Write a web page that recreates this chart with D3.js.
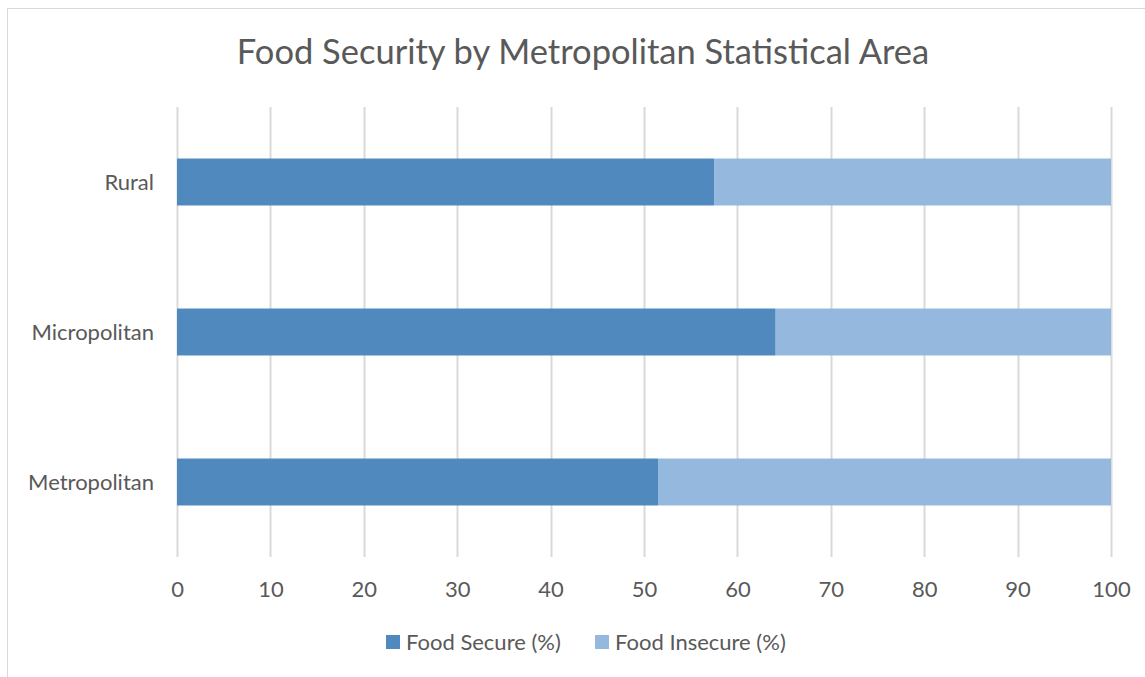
<!DOCTYPE html>
<html lang="en">
<head>
<meta charset="UTF-8"/>
<title>Food Security by Metropolitan Statistical Area</title>
<script src="https://d3js.org/d3.v7.min.js"></script>
<style>
	body { margin: 0; background: #fff; }
	svg text { font-family: Lato, "Open Sans", sans-serif; fill: #595959; }
</style>
</head>
<body>
<div id="chart"></div>
<script>
	// categories, top to bottom
	var categories = ["Rural", "Micropolitan", "Metropolitan"];
	var seriesNames = ["Food Secure (%)", "Food Insecure (%)"];
	var secure = [57.5, 64.1, 51.5];
	var insecure = [42.5, 35.9, 48.5];
	var xTicks = [0, 10, 20, 30, 40, 50, 60, 70, 80, 90, 100];
	var colors = ["#4f89bd", "#95b8de"];

	var w = 1145, h = 677;

	var svg = d3.select("#chart")
		.append("svg")
		.attr("width", w)
		.attr("height", h);

	// chart area border
	svg.append("rect")
		.attr("x", 7.5).attr("y", 8.5)
		.attr("width", w + 10).attr("height", h + 10)
		.attr("fill", "none")
		.attr("stroke", "#d9d9d9");

	var xScale = d3.scaleLinear()
		.domain([0, 100])
		.range([177, 1111]);

	var yScale = d3.scaleBand()
		.domain(categories)
		.range([107, 557])
		.paddingInner(0.687)
		.paddingOuter(0.3435);

	// gridlines
	svg.append("g")
		.selectAll("line")
		.data(xTicks)
		.enter()
		.append("line")
		.attr("x1", function(d) { return Math.round(xScale(d)) + 0.5; })
		.attr("x2", function(d) { return Math.round(xScale(d)) + 0.5; })
		.attr("y1", 107)
		.attr("y2", 557)
		.attr("stroke", "#d9d9d9")
		.attr("stroke-width", 2);

	// stacked data
	var rows = categories.map(function(c, i) {
		return { cat: c, "Food Secure (%)": secure[i], "Food Insecure (%)": insecure[i] };
	});
	var stack = d3.stack().keys(seriesNames)(rows);

	svg.append("g")
		.selectAll("g")
		.data(stack)
		.enter()
		.append("g")
		.attr("fill", function(d, i) { return colors[i]; })
		.selectAll("rect")
		.data(function(d) { return d; })
		.enter()
		.append("rect")
		.attr("x", function(d) { return xScale(d[0]); })
		.attr("y", function(d) { return yScale(d.data.cat); })
		.attr("width", function(d) { return xScale(d[1]) - xScale(d[0]); })
		.attr("height", yScale.bandwidth());

	// x axis labels
	var xAxis = d3.axisBottom(xScale)
		.tickValues(xTicks)
		.tickSize(0)
		.tickPadding(0);
	var gx = svg.append("g")
		.attr("transform", "translate(0,597)")
		.call(xAxis);
	gx.select(".domain").remove();
	gx.selectAll("text")
		.attr("dy", 0)
		.style("font-size", "22px")
		.style("font-family", null);

	// y axis labels
	var yAxis = d3.axisLeft(yScale).tickSize(0).tickPadding(0);
	var gy = svg.append("g")
		.attr("transform", "translate(154,0)")
		.call(yAxis);
	gy.select(".domain").remove();
	gy.selectAll("text")
		.attr("dy", "0.36em")
		.style("font-size", "22px")
		.style("font-family", null);

	// title
	svg.append("text")
		.attr("x", 583)
		.attr("y", 64)
		.attr("text-anchor", "middle")
		.style("font-size", "34.5px")
		.text("Food Security by Metropolitan Statistical Area");

	// legend
	var legendX = [386, 595];
	var legend = svg.append("g")
		.selectAll("g")
		.data(seriesNames)
		.enter()
		.append("g")
		.attr("transform", function(d, i) { return "translate(" + legendX[i] + ",635)"; });
	legend.append("rect")
		.attr("width", 14).attr("height", 14)
		.attr("fill", function(d, i) { return colors[i]; });
	legend.append("text")
		.attr("x", 20).attr("y", 7)
		.attr("dy", "0.36em")
		.style("font-size", "22px")
		.text(function(d) { return d; });
</script>
</body>
</html>
